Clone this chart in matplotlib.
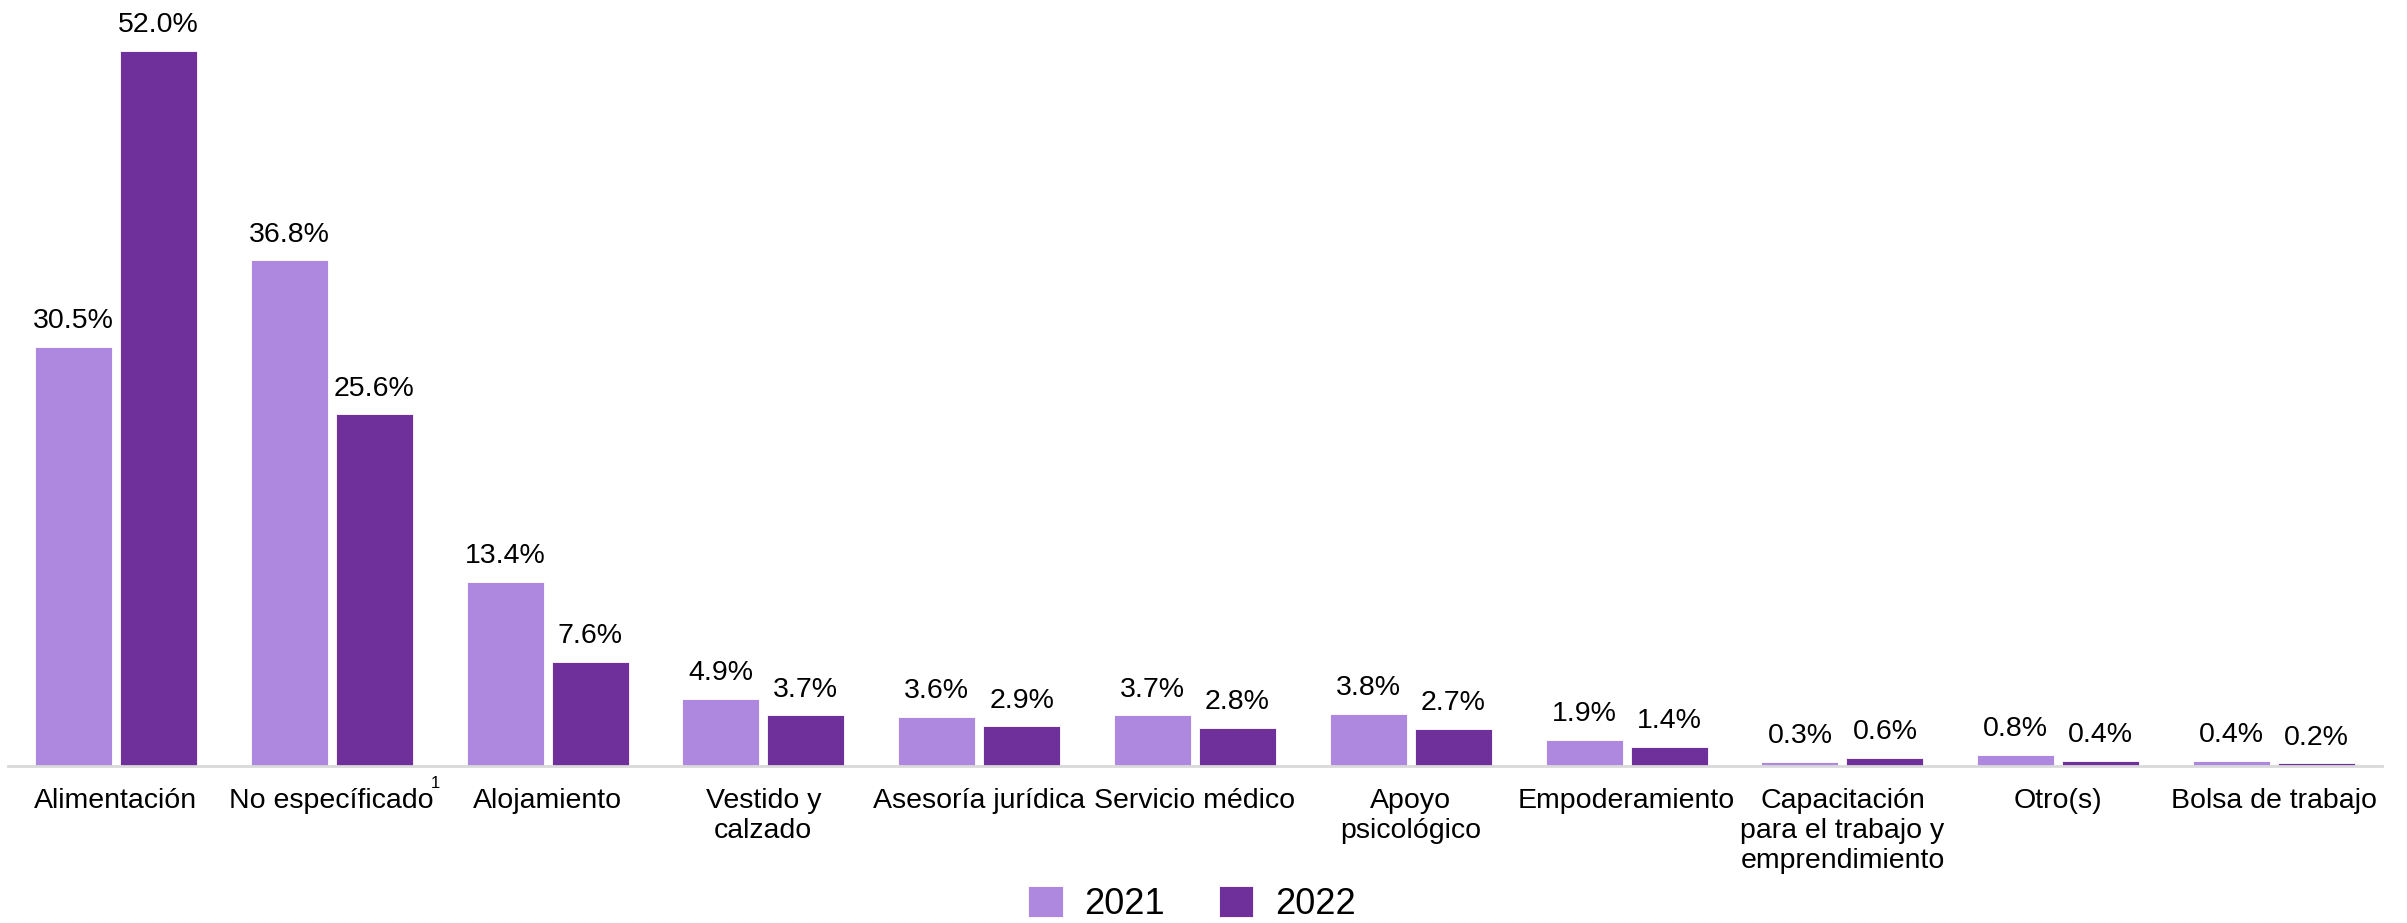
import matplotlib
matplotlib.use("Agg")
import matplotlib.pyplot as plt
import numpy as np

plt.rcParams['font.family'] = ['Liberation Sans', 'DejaVu Sans']

# data (percent)
categories = ['Alimentación', 'No específicado', 'Alojamiento', 'Vestido y\ncalzado',
              'Asesoría jurídica', 'Servicio médico', 'Apoyo\npsicológico',
              'Empoderamiento', 'Capacitación\npara el trabajo y\nemprendimiento',
              'Otro(s)', 'Bolsa de trabajo']
values_2021 = [30.5, 36.8, 13.4, 4.9, 3.6, 3.7, 3.8, 1.9, 0.3, 0.8, 0.4]
values_2022 = [52.0, 25.6, 7.6, 3.7, 2.9, 2.8, 2.7, 1.4, 0.6, 0.4, 0.2]
years = ['2021', '2022']
colors = ['#AE88DF', '#70309C']

W, H = 2407, 923
fig = plt.figure(figsize=(W / 100, H / 100), dpi=100)
ax = fig.add_axes([8 / W, (H - 766) / H, (2382 - 8) / W, (766 - 10) / H])

x = np.arange(len(categories))
bw = 0.357
off = 0.197
b1 = ax.bar(x - off, values_2021, bw, color=colors[0], label=years[0],
            edgecolor='white', linewidth=0.6)
b2 = ax.bar(x + off, values_2022, bw, color=colors[1], label=years[1],
            edgecolor='white', linewidth=0.6)

for bars, vals in [(b1, values_2021), (b2, values_2022)]:
    for rect, v in zip(bars, vals):
        ax.annotate(f'{v:.1f}%', (rect.get_x() + rect.get_width() / 2, rect.get_height()),
                    xytext=(0, 9), textcoords='offset points', ha='center', va='bottom',
                    fontsize=20.5, clip_on=False)

ax.set_xlim(-0.5, len(categories) - 0.5)
ax.set_ylim(0, 52.0 * 756 / 715)
ax.set_xticks(x)
ax.set_xticklabels(categories, fontsize=20.5, linespacing=1.2)
ax.tick_params(axis='x', length=0, pad=16)
ax.set_yticks([])
for s in ['top', 'right', 'left']:
    ax.spines[s].set_visible(False)
ax.spines['bottom'].set_color('#D9D9D9')
ax.spines['bottom'].set_linewidth(2)

# footnote mark next to "No específicado"
ax.annotate('1', (1 + 0.48, 0), xycoords=('data', 'data'), xytext=(0, -7),
            textcoords='offset points', ha='center', va='top', fontsize=12)

fig.legend(handles=[b1, b2], labels=years, loc='center', bbox_to_anchor=(1192 / W, 1 - 904 / H),
           ncol=2, frameon=False, fontsize=26, handlelength=0.95, handleheight=0.95,
           columnspacing=1.5, handletextpad=0.6)

fig.savefig('out.png', dpi=100)
